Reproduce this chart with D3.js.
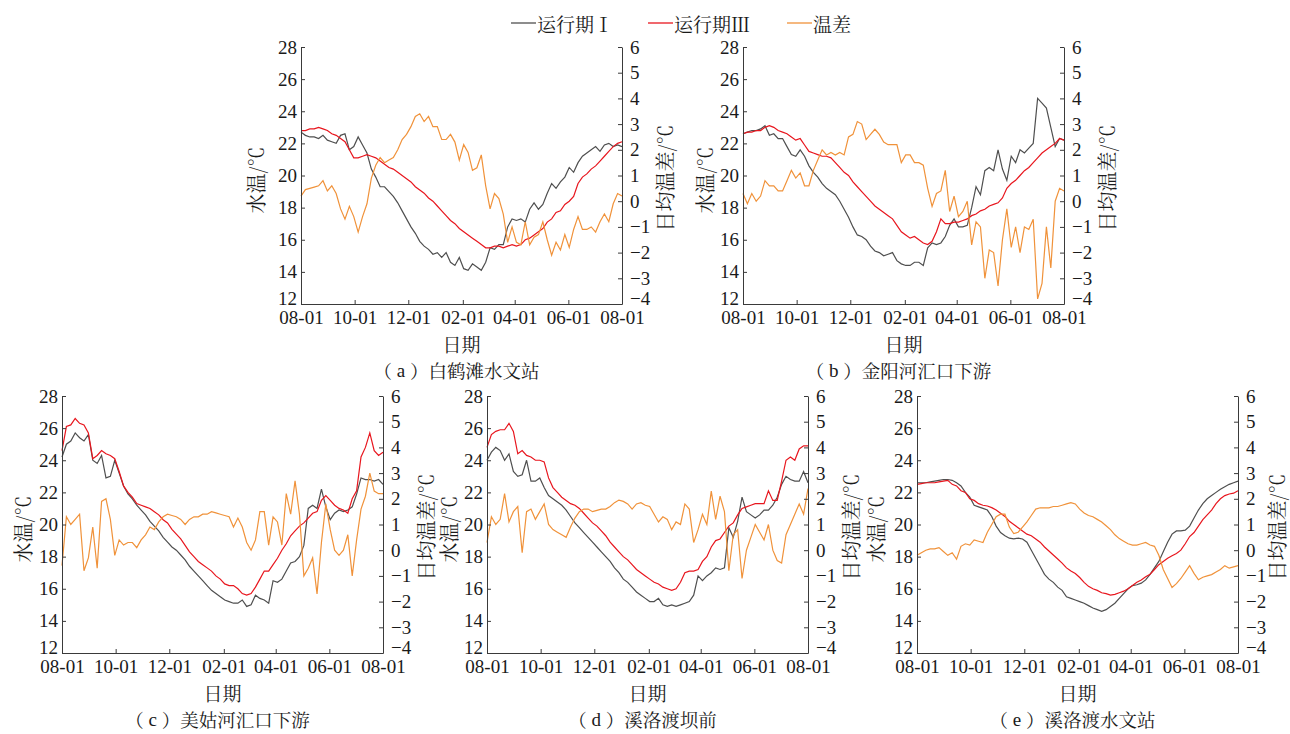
<!DOCTYPE html>
<html>
<head>
<meta charset="utf-8">
<script src="https://cdn.jsdelivr.net/npm/d3@7"></script>
<style>
body { margin: 0; background: #fff; }
</style>
</head>
<body>
<div id="vis"></div>
<script>
//data: one value every 5 days, 08-01 to 08-01 of the next year (74 values)
var step = 5;
var seriesNames = ["运行期Ⅰ", "运行期Ⅲ", "温差"];
var captions = ["白鹤滩水文站", "金阳河汇口下游", "美姑河汇口下游", "溪洛渡坝前", "溪洛渡水文站"];
var letters = ["a", "b", "c", "d", "e"];
var xTickLabels = ["08-01", "10-01", "12-01", "02-01", "04-01", "06-01", "08-01"];
var leftTicks = [12, 14, 16, 18, 20, 22, 24, 26, 28];
var rightTicks = [-4, -3, -2, -1, 0, 1, 2, 3, 4, 5, 6];

//(a) 白鹤滩水文站
var a_run1 = [22.7, 22.5, 22.4, 22.4, 22.3, 22.5, 22.2, 22.1, 22.0, 22.5,
  22.6, 21.6, 21.8, 22.4, 21.9, 21.4, 20.4, 19.9, 19.3, 19.3,
  19.0, 18.7, 18.3, 17.8, 17.3, 16.8, 16.4, 15.9, 15.6, 15.4,
  15.1, 15.2, 14.9, 15.2, 14.6, 14.4, 14.9, 14.2, 14.1, 14.5,
  14.3, 14.1, 14.6, 15.5, 15.4, 15.7, 15.7, 16.8, 17.3, 17.2,
  17.3, 17.1, 17.9, 18.3, 17.9, 18.2, 18.9, 19.5, 19.2, 19.6,
  19.9, 20.5, 20.2, 20.8, 21.2, 21.4, 21.6, 21.8, 21.5, 21.9,
  22.0, 21.8, 21.9, 21.8];
var a_run3 = [22.8, 22.8, 22.9, 22.9, 23.0, 22.9, 22.8, 22.6, 22.5, 22.3,
  22.1, 21.6, 21.1, 21.1, 21.2, 21.3, 21.2, 21.1, 20.9, 20.7,
  20.5, 20.4, 20.2, 20.0, 19.8, 19.6, 19.3, 19.1, 18.9, 18.6,
  18.4, 18.1, 17.8, 17.5, 17.2, 17.0, 16.7, 16.5, 16.3, 16.1,
  15.9, 15.7, 15.5, 15.5, 15.6, 15.6, 15.5, 15.6, 15.7, 15.6,
  15.7, 16.0, 16.1, 16.3, 16.5, 16.7, 17.1, 17.3, 17.7, 17.8,
  18.2, 18.4, 18.7, 19.5, 19.9, 20.1, 20.4, 20.6, 20.9, 21.2,
  21.5, 21.8, 22.0, 22.1];
var a_diff = [0.2, 0.45, 0.5, 0.55, 0.6, 0.8, 0.4, 0.6, 0.3, -0.3,
  -0.7, -0.2, -0.6, -1.2, -0.6, -0.1, 0.9, 1.4, 1.7, 1.5,
  1.6, 1.7, 2.0, 2.4, 2.6, 2.9, 3.3, 3.4, 3.1, 3.3,
  2.9, 2.9, 2.4, 2.4, 2.6, 2.3, 1.6, 2.2, 1.9, 1.2,
  1.3, 1.8, 0.6, -0.3, 0.3, 0.1, -0.5, -1.6, -1.0, -1.6,
  -1.7, -0.8, -1.7, -1.4, -1.3, -0.8, -1.5, -2.1, -1.6, -1.9,
  -1.3, -1.8, -1.1, -0.6, -1.1, -1.1, -1.0, -1.2, -0.8, -0.5,
  -0.8, -0.1, 0.3, 0.2];

//(b) 金阳河汇口下游
var b_run1 = [22.6, 22.7, 22.8, 22.8, 22.9, 23.1, 22.5, 22.6, 22.3, 22.3,
  21.8, 21.3, 21.2, 21.6, 21.2, 20.6, 20.2, 19.9, 19.5, 19.2,
  19.0, 18.8, 18.4, 17.9, 17.4, 16.8, 16.3, 16.2, 16.0, 15.6,
  15.3, 15.2, 15.0, 15.1, 15.2, 14.7, 14.5, 14.4, 14.4, 14.6,
  14.6, 14.4, 15.5, 15.8, 15.7, 15.8, 16.2, 16.9, 17.3, 16.8,
  16.8, 16.9, 18.0, 19.3, 18.8, 20.3, 20.5, 20.3, 21.6, 20.4,
  19.7, 21.2, 20.8, 21.6, 21.4, 21.7, 22.0, 24.8, 24.5, 24.2,
  23.0, 21.8, 22.3, 22.2];
var b_run3 = [22.6, 22.7, 22.7, 22.8, 22.8, 23.0, 23.1, 23.0, 22.8, 22.7,
  22.6, 22.4, 22.2, 22.3, 21.9, 21.5, 21.4, 21.3, 21.2, 21.2,
  21.1, 20.8, 20.5, 20.2, 20.0, 19.6, 19.3, 19.0, 18.7, 18.4,
  18.1, 17.9, 17.7, 17.5, 17.3, 16.9, 16.5, 16.3, 16.1, 16.2,
  16.0, 15.8, 15.7, 15.9, 16.5, 17.3, 17.0, 17.0, 17.1, 17.1,
  17.2, 17.3, 17.5, 17.6, 17.8, 17.9, 18.1, 18.2, 18.3, 18.6,
  19.2, 19.5, 19.7, 20.0, 20.3, 20.5, 20.8, 21.1, 21.4, 21.6,
  21.8, 22.0, 22.3, 22.2];
var b_diff = [0.3, -0.1, 0.3, 0.0, 0.2, 0.8, 0.6, 0.6, 0.4, 0.4,
  0.8, 1.2, 0.9, 1.1, 0.6, 0.6, 1.2, 1.6, 2.0, 1.8,
  1.9, 1.8, 1.9, 1.8, 2.5, 2.6, 3.1, 3.0, 2.4, 2.6,
  2.8, 2.6, 2.3, 2.2, 2.2, 2.2, 1.5, 1.8, 1.8, 1.5,
  1.5, 1.4, 0.5, -0.2, 0.3, 0.4, 1.2, -0.4, 0.2, -0.6,
  -0.4, 0.0, -1.7, -0.8, -1.0, -3.0, -1.9, -2.0, -3.3, -1.5,
  -0.3, -1.8, -1.0, -2.0, -1.0, -1.1, -0.7, -3.8, -3.2, -1.0,
  -2.6, 0.0, 0.5, 0.4];

//(c) 美姑河汇口下游
var c_run1 = [24.2, 25.0, 25.2, 25.7, 25.4, 25.2, 25.6, 24.0, 23.8, 24.3,
  22.9, 23.0, 24.0, 23.2, 22.4, 21.9, 21.6, 21.2, 20.9, 20.6,
  20.2, 19.9, 19.6, 19.2, 18.9, 18.6, 18.4, 18.1, 17.8, 17.4,
  17.1, 16.8, 16.5, 16.2, 15.9, 15.7, 15.5, 15.3, 15.2, 15.1,
  15.1, 15.3, 14.9, 15.0, 15.6, 15.4, 15.3, 15.1, 16.5, 16.4,
  16.6, 17.1, 17.6, 17.7, 18.0, 18.7, 21.0, 21.2, 21.0, 22.2,
  21.1, 20.3, 20.7, 20.9, 20.8, 20.9, 21.1, 21.9, 22.9, 22.8,
  22.8, 22.7, 22.8, 22.5];
var c_run3 = [24.6, 26.1, 26.2, 26.6, 26.3, 26.2, 25.7, 24.1, 24.3, 24.6,
  24.4, 24.3, 24.1, 23.3, 22.4, 22.0, 21.7, 21.3, 21.2, 21.1,
  21.0, 20.8, 20.6, 20.3, 20.1, 19.7, 19.4, 19.1, 18.7, 18.3,
  18.0, 17.7, 17.5, 17.3, 17.1, 16.8, 16.6, 16.3, 16.2, 16.2,
  16.0, 15.7, 15.6, 15.7, 16.1, 16.6, 17.1, 17.1, 17.5, 17.9,
  18.4, 18.8, 19.3, 19.6, 19.9, 20.1, 20.4, 20.7, 20.8, 21.5,
  21.8, 21.5, 21.2, 21.0, 20.9, 20.7, 21.6, 22.1, 24.2, 24.8,
  25.7, 24.6, 24.3, 24.5];
var c_diff = [-0.6, 1.3, 1.0, 1.2, 1.4, -0.8, -0.3, 0.9, -0.7, 1.9,
  2.0, 1.2, -0.2, 0.4, 0.2, 0.3, 0.3, 0.1, 0.4, 0.6,
  0.9, 0.8, 1.1, 1.3, 1.4, 1.35, 1.3, 1.2, 1.0, 1.2,
  1.3, 1.3, 1.4, 1.4, 1.5, 1.45, 1.4, 1.35, 1.3, 0.9,
  1.25, 0.9, 0.3, 0.0, 0.4, 1.5, 1.5, 0.2, 1.3, 1.1,
  0.2, 2.2, 1.4, 2.7, 1.4, -1.0, -0.7, -0.3, -1.7, 0.3,
  1.8, 0.8, 0.0, -0.2, 0.0, 0.6, -1.0, 0.4, 1.6, 2.1,
  3.0, 2.3, 2.2, 2.2];

//(d) 溪洛渡坝前
var d_run1 = [24.0, 24.5, 24.8, 24.6, 24.0, 24.4, 23.3, 23.0, 23.1, 24.0,
  22.7, 22.7, 22.9, 22.3, 21.8, 21.6, 21.4, 21.2, 20.9, 20.5,
  20.1, 19.8, 19.5, 19.2, 18.9, 18.6, 18.3, 18.0, 17.7, 17.3,
  17.0, 16.6, 16.4, 16.1, 15.8, 15.6, 15.4, 15.2, 15.2, 15.4,
  15.0, 14.9, 15.0, 14.9, 15.0, 15.1, 15.2, 15.6, 16.8, 16.5,
  16.8, 17.0, 17.3, 17.2, 17.3, 19.8, 19.2, 20.2, 21.7, 20.8,
  20.6, 20.4, 20.6, 20.9, 20.9, 21.2, 21.7, 22.5, 23.0, 22.8,
  22.7, 22.7, 23.3, 22.6];
var d_run3 = [24.8, 25.6, 25.8, 25.9, 25.9, 26.3, 25.8, 24.4, 24.6, 24.3,
  24.2, 24.0, 24.0, 23.9, 22.9, 22.3, 22.0, 21.7, 21.5, 21.3,
  21.2, 21.0, 20.7, 20.4, 20.1, 19.9, 19.6, 19.3, 18.9, 18.6,
  18.3, 18.0, 17.8, 17.5, 17.2, 17.0, 16.8, 16.6, 16.4, 16.3,
  16.1, 16.0, 15.9, 16.0, 16.4, 17.0, 17.1, 17.1, 17.2, 17.7,
  18.0, 18.6, 19.0, 19.1, 19.5, 19.9, 20.1, 20.6, 21.0, 21.1,
  21.2, 21.3, 21.3, 21.3, 22.1, 21.5, 21.5, 22.7, 24.0, 24.2,
  24.0, 24.7, 24.9, 24.9];
var d_diff = [0.3, 1.3, 1.0, 1.2, 2.2, 1.1, 1.5, 1.7, -0.1, 1.5,
  1.6, 1.2, 1.5, 1.8, 1.0, 0.8, 0.7, 0.6, 0.5, 0.9,
  1.25, 1.5, 1.6, 1.6, 1.5, 1.55, 1.6, 1.6, 1.7, 1.85,
  1.95, 1.9, 1.8, 1.6, 1.8, 1.85, 1.75, 1.7, 1.4, 1.1,
  1.3, 1.2, 0.8, 1.1, 1.0, 1.8, 1.6, 0.3, 0.8, 1.4,
  1.0, 2.3, 1.2, 2.1, 1.5, -0.8, 0.6, 0.8, -1.1, 0.0,
  0.5, 1.0, 0.7, 0.4, 1.0, 0.0, -0.4, -0.5, 0.6, 1.0,
  1.4, 1.8, 1.4, 2.4];

//(e) 溪洛渡水文站
var e_run1 = [22.6, 22.6, 22.6, 22.65, 22.7, 22.75, 22.8, 22.8, 22.75, 22.6,
  22.4, 22.0, 21.7, 21.2, 21.1, 21.0, 20.9, 20.5, 19.9, 19.5,
  19.3, 19.15, 19.1, 19.15, 19.1, 18.9, 18.4, 17.9, 17.4, 16.9,
  16.6, 16.4, 16.1, 15.9, 15.5, 15.4, 15.3, 15.2, 15.1, 14.95,
  14.8, 14.7, 14.6, 14.7, 14.9, 15.1, 15.4, 15.7, 16.0, 16.2,
  16.25, 16.35, 16.55, 16.9, 17.3, 17.7, 18.3, 18.9, 19.4, 19.6,
  19.6, 19.65, 19.9, 20.4, 20.9, 21.3, 21.6, 21.8, 22.0, 22.2,
  22.35, 22.5, 22.6, 22.7];
var e_run3 = [22.5, 22.55, 22.6, 22.6, 22.6, 22.65, 22.7, 22.75, 22.5, 22.4,
  22.1, 22.0, 21.6, 21.5, 21.3, 21.2, 21.15, 21.05, 20.9, 20.7,
  20.5, 20.2, 20.0, 19.8, 19.6, 19.4, 19.3, 19.1, 18.9, 18.6,
  18.35, 18.1, 17.85, 17.6, 17.3, 17.1, 16.95, 16.7, 16.4, 16.15,
  16.0, 15.9, 15.75, 15.7, 15.6, 15.65, 15.75, 15.85, 16.0, 16.2,
  16.4, 16.55, 16.75, 16.9, 17.2, 17.5, 17.7, 17.9, 18.05, 18.2,
  18.4, 18.8, 19.25, 19.5, 19.9, 20.3, 20.6, 20.9, 21.3, 21.6,
  21.8, 21.9, 21.95, 22.1];
var e_diff = [-0.2, -0.1, 0.0, 0.05, 0.05, 0.1, -0.05, -0.2, -0.1, -0.35,
  0.15, 0.25, 0.2, 0.4, 0.35, 0.3, 0.7, 1.0, 1.3, 1.4,
  1.4, 0.9, 0.65, 0.7, 0.9, 1.1, 1.35, 1.6, 1.65, 1.65,
  1.65, 1.7, 1.7, 1.75, 1.8, 1.85, 1.8, 1.6, 1.45, 1.35,
  1.3, 1.2, 1.1, 0.95, 0.8, 0.6, 0.45, 0.35, 0.25, 0.2,
  0.2, 0.25, 0.3, 0.2, 0.15, -0.2, -0.75, -1.1, -1.45, -1.3,
  -1.1, -0.85, -0.6, -0.9, -1.15, -1.05, -1.0, -0.95, -0.85, -0.75,
  -0.6, -0.7, -0.65, -0.6];

var w = 1290;
var h = 734;
var pw = 321;
var ph = 257;
var colors = ["#4f4f4f", "#e8161e", "#f0923a"];
//single family names only: lists fall back to sans here
var serif = "Liberation Serif";
var cjk = "Noto Serif CJK SC";

var panels = [
  {run1: a_run1, run3: a_run3, diff: a_diff, left: 301, top: 47, lt: -46, rt: 42},
  {run1: b_run1, run3: b_run3, diff: b_diff, left: 743, top: 47, lt: -39, rt: 42},
  {run1: c_run1, run3: c_run3, diff: c_diff, left: 62, top: 396, lt: -40, rt: 42},
  {run1: d_run1, run3: d_run3, diff: d_diff, left: 487, top: 396, lt: -39, rt: 42},
  {run1: e_run1, run3: e_run3, diff: e_diff, left: 917, top: 396, lt: -42, rt: 38}
];

var svg = d3.select("#vis")
.append("svg")
.attr("width", w)
.attr("height", h)
.style("background", "#fff");

//scales shared by every panel
var start = new Date(2018, 7, 1);
var end = new Date(2019, 7, 1);
var x = d3.scaleTime().domain([start, end]).range([0, pw]);
var yL = d3.scaleLinear().domain([12, 28]).range([ph, 0]);
var yR = d3.scaleLinear().domain([-4, 6]).range([ph, 0]);
var day = (i) => d3.timeDay.offset(start, i * step);
var xTicks = xTickLabels.map((s, i) => d3.timeMonth.offset(start, i * 2));

var lineL = d3.line().x((d, i) => x(day(i))).y(d => yL(d));
var lineR = d3.line().x((d, i) => x(day(i))).y(d => yR(d));

function styleAxis(g) {
  g.attr("font-family", serif).attr("font-size", 19);
  g.selectAll("path, line").attr("stroke", "#3a3a3a").attr("stroke-width", 1);
  g.selectAll("text").attr("fill", "#1a1a1a");
}

panels.forEach(function(p, k) {
  var g = svg.append("g")
  .attr("transform", `translate(${p.left}, ${p.top})`);

  //lines
  g.append("path").datum(p.run1)
  .attr("d", lineL).attr("fill", "none").attr("stroke", colors[0]).attr("stroke-width", 1.2);
  g.append("path").datum(p.run3)
  .attr("d", lineL).attr("fill", "none").attr("stroke", colors[1]).attr("stroke-width", 1.2);
  g.append("path").datum(p.diff)
  .attr("d", lineR).attr("fill", "none").attr("stroke", colors[2]).attr("stroke-width", 1.2);

  //axes, ticks point inward
  var gl = g.append("g")
  .call(d3.axisLeft(yL).tickValues(leftTicks).tickSize(-4).tickSizeOuter(0).tickPadding(4))
  .call(styleAxis);
  gl.selectAll(".tick text").filter(d => d == 12).attr("transform", "translate(0,-6)");

  var gr = g.append("g")
  .attr("transform", `translate(${pw}, 0)`)
  .call(d3.axisRight(yR).tickValues(rightTicks).tickSize(-4).tickSizeOuter(0).tickPadding(8))
  .call(styleAxis);
  gr.selectAll(".tick text").filter(d => d == -4).attr("transform", "translate(0,-6)");

  g.append("g")
  .attr("transform", `translate(0, ${ph})`)
  .call(d3.axisBottom(x).tickValues(xTicks).tickFormat((d, i) => xTickLabels[i])
    .tickSize(-4).tickSizeOuter(0).tickPadding(7))
  .call(styleAxis);

  //axis titles
  g.append("text")
  .attr("transform", `translate(${p.lt}, 133) rotate(-90)`)
  .attr("text-anchor", "middle").attr("dominant-baseline", "central")
  .attr("font-family", cjk).attr("font-size", 20).attr("fill", "#1a1a1a")
  .text("水温/℃");

  g.append("text")
  .attr("transform", `translate(${pw + p.rt}, 131) rotate(-90)`)
  .attr("text-anchor", "middle").attr("dominant-baseline", "central")
  .attr("font-family", cjk).attr("font-size", 20).attr("fill", "#1a1a1a")
  .text("日均温差/℃");

  g.append("text")
  .attr("x", pw / 2).attr("y", ph + 39)
  .attr("text-anchor", "middle").attr("dominant-baseline", "central")
  .attr("font-family", cjk).attr("font-size", 19).attr("fill", "#1a1a1a")
  .text("日期");

  var cap = g.append("text")
  .attr("x", pw / 2 - 5).attr("y", ph + 66)
  .attr("text-anchor", "middle").attr("dominant-baseline", "central")
  .attr("font-family", cjk).attr("font-size", 18.5).attr("fill", "#1a1a1a");
  cap.append("tspan").text("（");
  cap.append("tspan").attr("font-family", serif).attr("font-size", 19).text(" " + letters[k] + " ");
  cap.append("tspan").text("）" + captions[k]);
});

//legend
var legendX = [511, 648, 787];
var legend = svg.append("g").attr("transform", "translate(0, 23)");
seriesNames.forEach(function(name, i) {
  legend.append("line")
  .attr("x1", legendX[i]).attr("x2", legendX[i] + 25)
  .attr("y1", 0).attr("y2", 0)
  .attr("stroke", colors[i]).attr("stroke-width", 1.3);
  legend.append("text")
  .attr("x", legendX[i] + 26).attr("y", 0)
  .attr("dominant-baseline", "central")
  .attr("font-family", cjk).attr("font-size", 19).attr("fill", "#1a1a1a")
  .text(name);
});
</script>
</body>
</html>
